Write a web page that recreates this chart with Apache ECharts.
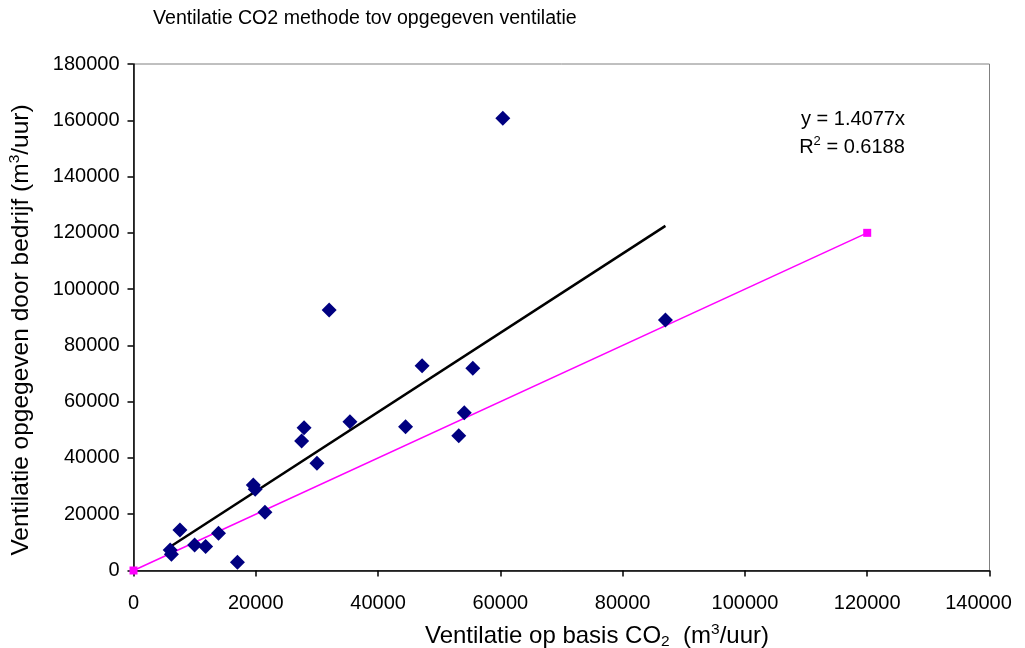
<!DOCTYPE html>
<html>
<head>
<meta charset="utf-8">
<script src="https://cdn.jsdelivr.net/npm/echarts@6/dist/echarts.min.js"></script>
<style>html,body{margin:0;padding:0;background:#fff;overflow:hidden}#c{width:1025px;height:648px}</style>
</head>
<body>
<div id="c"></div>
<script>
// Measured data: ventilation based on CO2 (x) vs reported by company (y), m3/uur
const co2X = [60400, 32000, 87000, 47200, 55500, 54100, 35400, 44500, 27900, 27500, 53200,
              30000, 19600, 19900, 21500, 7600, 13900, 10000, 11800, 6000, 6200, 17000];
const opgY = [160700, 92600, 89000, 72800, 71900, 56100, 52900, 51100, 50700, 46000, 47900,
              38100, 30400, 28900, 20700, 14400, 13200, 9100, 8500, 7300, 5800, 2900];
// y = x reference line
const refX = [0, 120000];
const refY = [0, 120000];
// linear trendline through origin (y = 1.4077x) over data range
const trendX = [6000, 87000];
const trendY = [8446, 122470];
const xTicks = [0, 20000, 40000, 60000, 80000, 100000, 120000, 140000];
const yTicks = [0, 20000, 40000, 60000, 80000, 100000, 120000, 140000, 160000, 180000];
const titleText = 'Ventilatie CO2 methode tov opgegeven ventilatie';
const eqText = 'y = 1.4077x';
const r2Value = '0.6188';

const FONT = 'Liberation Sans, Arial, sans-serif';
const chart = echarts.init(document.getElementById('c'), null, {renderer: 'canvas'});
const zip = (a, b) => a.map((v, i) => [v, b[i]]);
const plain = v => String(v);
const xMax = xTicks[xTicks.length - 1];
// last x label is pulled inward to stay inside the chart area, as in the original
const xFmt = v => (v === xMax ? '{last|' + v + '}' : String(v));

chart.setOption({
  backgroundColor: '#fff',
  animation: false,
  textStyle: {fontFamily: FONT},
  title: {
    text: titleText, left: 153, top: 9, padding: 0,
    textStyle: {fontFamily: FONT, fontSize: 19.6, fontWeight: 'normal', color: '#000'}
  },
  grid: {left: 133.5, right: 35.5, top: 64, bottom: 77.5, show: true, borderColor: '#808080', borderWidth: 1, backgroundColor: '#fff'},
  xAxis: {
    type: 'value', min: xTicks[0], max: xMax, interval: 20000,
    axisLine: {onZero: false, lineStyle: {color: '#000', width: 1.5}},
    axisTick: {show: true, inside: false, length: 6, lineStyle: {color: '#000', width: 1.5}},
    axisLabel: {
      fontFamily: FONT, fontSize: 20, color: '#000', margin: 23, formatter: xFmt,
      showMaxLabel: true, showMinLabel: true,
      rich: {last: {fontFamily: FONT, fontSize: 20, color: '#000', padding: [0, 22, 0, 0]}}
    },
    splitLine: {show: false}
  },
  yAxis: {
    type: 'value', min: yTicks[0], max: yTicks[yTicks.length - 1], interval: 20000,
    axisLine: {onZero: false, lineStyle: {color: '#000', width: 1.5}},
    axisTick: {show: true, inside: false, length: 6, lineStyle: {color: '#000', width: 1.5}},
    axisLabel: {fontFamily: FONT, fontSize: 20, color: '#000', margin: 14, formatter: plain, showMaxLabel: true, showMinLabel: true},
    splitLine: {show: false}
  },
  graphic: [
    {
      type: 'text', x: 597, y: 636, z: 100,
      style: {
        text: '{n|Ventilatie op basis CO}{sub|2}{n|  (m}{sup|3}{n|/uur)}',
        align: 'center', verticalAlign: 'middle',
        rich: {
          n: {fontFamily: FONT, fontSize: 24, color: '#000', lineHeight: 28},
          sub: {fontFamily: FONT, fontSize: 15.5, color: '#000', verticalAlign: 'bottom', lineHeight: 23},
          sup: {fontFamily: FONT, fontSize: 15.5, color: '#000', verticalAlign: 'top', lineHeight: 14}
        }
      }
    },
    {
      type: 'text', x: 21, y: 330, rotation: Math.PI / 2, z: 100,
      style: {
        text: '{n|Ventilatie opgegeven door bedrijf (m}{sup|3}{n|/uur)}',
        align: 'center', verticalAlign: 'middle',
        rich: {
          n: {fontFamily: FONT, fontSize: 24.5, color: '#000', lineHeight: 28},
          sup: {fontFamily: FONT, fontSize: 15.5, color: '#000', verticalAlign: 'top', lineHeight: 14}
        }
      }
    },
    {
      type: 'text', x: 853, y: 119, z: 100,
      style: {text: eqText, align: 'center', verticalAlign: 'middle', font: '20px ' + FONT, fill: '#000'}
    },
    {
      type: 'text', x: 852, y: 147, z: 100,
      style: {
        text: '{n|R}{sup|2}{n| = ' + r2Value + '}',
        align: 'center', verticalAlign: 'middle',
        rich: {
          n: {fontFamily: FONT, fontSize: 20, color: '#000', lineHeight: 24},
          sup: {fontFamily: FONT, fontSize: 13, color: '#000', verticalAlign: 'top', lineHeight: 13}
        }
      }
    }
  ],
  series: [
    {
      name: 'y=x', type: 'line', data: zip(refX, refY), z: 2,
      symbol: 'rect', symbolSize: 8, showSymbol: true,
      lineStyle: {color: '#FF00FF', width: 1.5},
      itemStyle: {color: '#FF00FF'}
    },
    {
      name: 'trend', type: 'line', data: zip(trendX, trendY), z: 3,
      symbol: 'none', lineStyle: {color: '#000', width: 2.5}
    },
    {
      name: 'data', type: 'scatter', data: zip(co2X, opgY), z: 4,
      symbol: 'diamond', symbolSize: 15,
      itemStyle: {color: '#000080', opacity: 1}
    }
  ]
});
</script>
</body>
</html>
